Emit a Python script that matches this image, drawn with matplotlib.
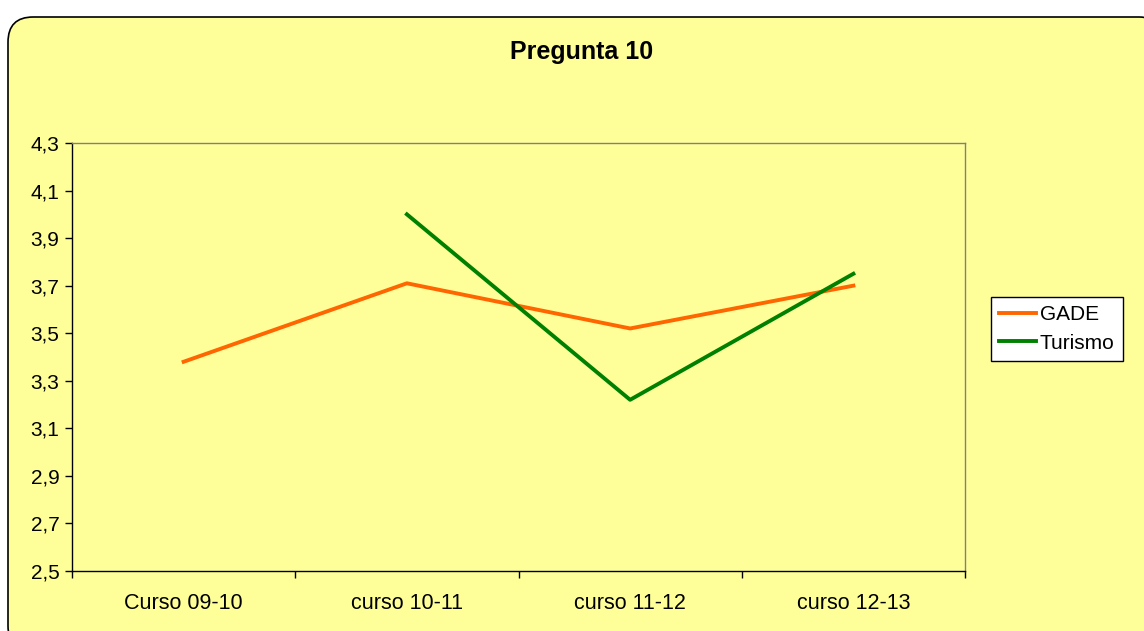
import matplotlib
matplotlib.use("Agg")
import matplotlib.pyplot as plt
from matplotlib.patches import FancyBboxPatch

plt.rcParams['font.family'] = ['Liberation Sans', 'DejaVu Sans']

cursos = ["Curso 09-10", "curso 10-11", "curso 11-12", "curso 12-13"]
gade = [3.38, 3.71, 3.52, 3.70]
turismo = [None, 4.00, 3.22, 3.75]
yticks = [2.5, 2.7, 2.9, 3.1, 3.3, 3.5, 3.7, 3.9, 4.1, 4.3]

W, H = 1144, 631
fig = plt.figure(figsize=(W / 100, H / 100), dpi=100)
fig.patch.set_facecolor("white")

# fondo redondeado del grafico
fondo = FancyBboxPatch((8 / W, -20 / H), (W + 20 - 8) / W, (H + 20 - 17) / H,
                       boxstyle="round,pad=0,rounding_size=0.022",
                       transform=fig.transFigure, facecolor="#FFFF99",
                       edgecolor="black", linewidth=1.2, mutation_aspect=W / H,
                       zorder=-10)
fig.patches.append(fondo)

ax = fig.add_axes([72 / W, 1 - 571 / H, (965 - 72) / W, (571 - 143) / H])
ax.set_facecolor("#FFFF99")

x = list(range(len(cursos)))
ax.plot(x, gade, color="#FF6600", linewidth=2.8, label="GADE")
xt = [i for i, v in enumerate(turismo) if v is not None]
yt = [v for v in turismo if v is not None]
ax.plot(xt, yt, color="#008000", linewidth=2.8, label="Turismo")

ax.set_xlim(-0.5, 3.5)
ax.set_ylim(2.5, 4.3)
ax.set_yticks(yticks)
ax.set_yticklabels([f"{v:.1f}".replace(".", ",") for v in yticks], fontsize=15)
ax.set_xticks(x)
ax.set_xticklabels(cursos, fontsize=15.5)
ax.tick_params(axis="x", which="major", length=0, pad=16)
ax.set_xticks([-0.5, 0.5, 1.5, 2.5, 3.5], minor=True)
ax.tick_params(axis="x", which="minor", length=5, width=1)
ax.tick_params(axis="y", length=5, width=1, direction="out", pad=4)

for s in ["top", "right"]:
    ax.spines[s].set_color("#808080")
    ax.spines[s].set_linewidth(1)
for s in ["left", "bottom"]:
    ax.spines[s].set_color("black")
    ax.spines[s].set_linewidth(1)

fig.text(582 / W, 1 - 52 / H, "Pregunta 10", ha="center", va="center",
         fontsize=18, fontweight="bold")

leg = fig.legend(loc="upper left", bbox_to_anchor=(991 / W, 1 - 297 / H),
                 fontsize=15, frameon=True, fancybox=False, handlelength=1.75,
                 handletextpad=0.2, borderpad=0.4, labelspacing=0.45,
                 borderaxespad=0, framealpha=1)
leg.get_frame().set_edgecolor("black")
leg.get_frame().set_linewidth(1)
leg.get_frame().set_facecolor("white")

fig.savefig("out.png", dpi=100, facecolor=fig.get_facecolor())
